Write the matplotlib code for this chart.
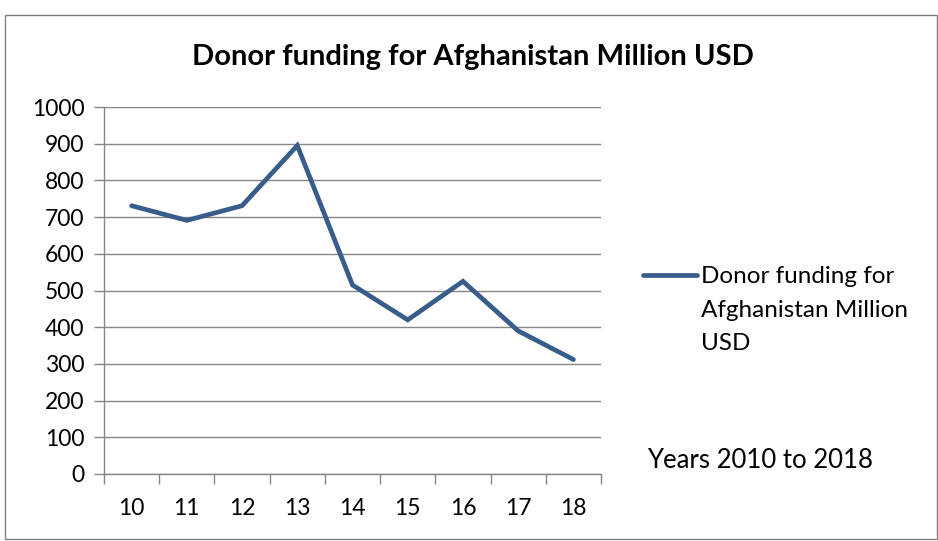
import matplotlib
matplotlib.use("Agg")
import matplotlib.pyplot as plt
from matplotlib.patches import Rectangle
from matplotlib.lines import Line2D
import numpy as np

years = ["10", "11", "12", "13", "14", "15", "16", "17", "18"]
funding = [731, 691, 731, 895, 515, 420, 525, 390, 312]
series_name = "Donor funding for\nAfghanistan Million\nUSD"

plt.rcParams["font.family"] = ["Lato", "DejaVu Sans"]

W, H = 938, 541
fig = plt.figure(figsize=(W / 100, H / 100), dpi=100)

# chart frame
fig.patches.append(Rectangle((5 / W, 1 - 539 / H), 932 / W, 524 / H,
                             transform=fig.transFigure, fill=False,
                             edgecolor="#7f7f7f", linewidth=1.0))

ax = fig.add_axes([104 / W, 1 - 474 / H, 497 / W, 367 / H])
x = np.arange(len(years))
ax.plot(x, funding, color="#385D8A", linewidth=3.4, solid_joinstyle="miter",
        solid_capstyle="round")

ax.set_xlim(-0.5, len(years) - 0.5)
ax.set_ylim(0, 1000)
ax.set_yticks(np.arange(0, 1001, 100))
ax.yaxis.grid(True, color="#868686", linewidth=1.0)
ax.set_axisbelow(True)

# tick marks between categories, labels at centers
ax.set_xticks(np.arange(-0.5, len(years), 1.0))
ax.set_xticklabels([])
ax.set_xticks(x, minor=True)
ax.set_xticklabels(years, minor=True)
ax.tick_params(axis="x", which="major", length=7, width=1, color="#868686")
ax.tick_params(axis="x", which="minor", length=0, pad=17, labelsize=16.5)
ax.tick_params(axis="y", length=7, width=1, color="#868686", pad=7, labelsize=16.5)

for s in ["top", "right"]:
    ax.spines[s].set_visible(False)
for s in ["left", "bottom"]:
    ax.spines[s].set_color("#868686")
    ax.spines[s].set_linewidth(1.0)

fig.text(473 / W, 1 - 57 / H, "Donor funding for Afghanistan Million USD",
         ha="center", va="center", fontsize=21, fontweight="bold")

# legend
fig.add_artist(Line2D([643 / W, 697 / W], [1 - 275 / H, 1 - 275 / H],
                      color="#385D8A", linewidth=3.4, solid_capstyle="round"))
fig.text(701 / W, 1 - 266 / H, series_name, ha="left", va="top",
         fontsize=17.5, linespacing=1.75)

fig.text(647 / W, 1 - 461 / H, "Years 2010 to 2018", ha="left", va="center",
         fontsize=18.5)

fig.savefig("out.png", dpi=100)
